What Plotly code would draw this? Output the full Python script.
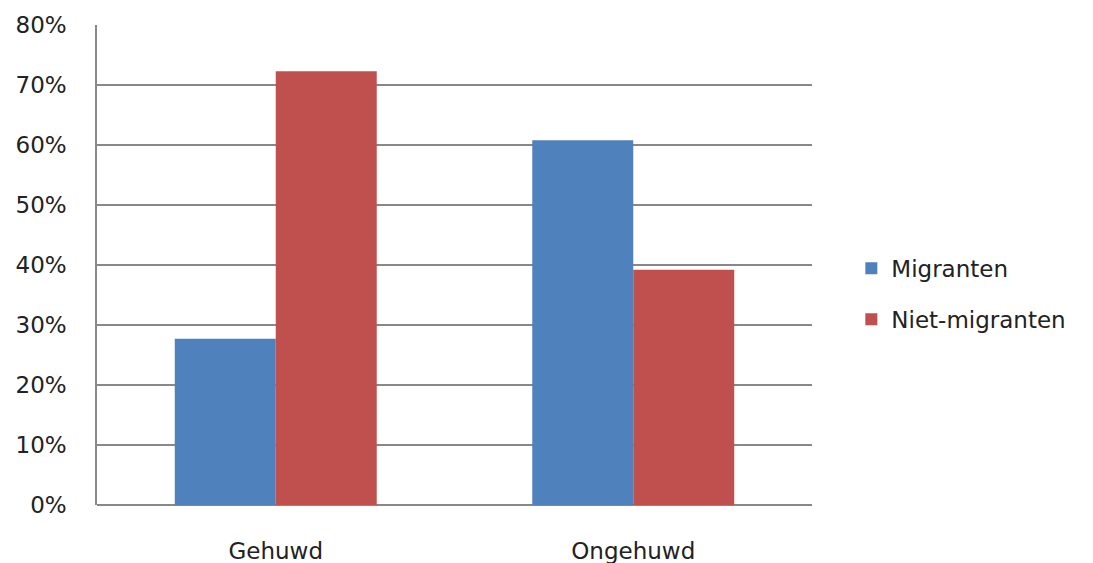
import plotly.graph_objects as go

categories = ["Gehuwd", "Ongehuwd"]
migranten = [27.7, 60.8]
niet_migranten = [72.3, 39.2]
y_ticks = [0, 10, 20, 30, 40, 50, 60, 70, 80]
y_tick_labels = [f"{v}%" for v in y_ticks]

FONT = "DejaVu Sans"
SIZE = 23
fig = go.Figure()
fig.add_trace(go.Bar(name="Migranten", x=categories, y=migranten,
                     marker=dict(color="#4F81BD", line=dict(width=0)),
                     legendgroup="a"))
fig.add_trace(go.Bar(name="Niet-migranten", x=categories, y=niet_migranten,
                     marker=dict(color="#C0504D", line=dict(width=0)),
                     legendgroup="b"))

fig.update_layout(
    width=1093, height=563,
    margin=dict(l=97, r=281, t=25, b=58, autoexpand=False),
    paper_bgcolor="white", plot_bgcolor="white",
    barmode="group", bargap=0.435, bargroupgap=0,
    font=dict(family=FONT, size=SIZE, color="#222222"),
    legend=dict(x=1.055, y=0.44, xanchor="left", yanchor="middle",
                font=dict(size=SIZE), tracegroupgap=18, traceorder="grouped"),
    showlegend=True,
)
fig.update_xaxes(showline=False, ticks="", ticklabelstandoff=30,
                 automargin=False, tickfont=dict(size=SIZE))
fig.update_yaxes(range=[0, 80], tickvals=y_ticks, ticktext=y_tick_labels,
                 showgrid=True, gridcolor="#888888", gridwidth=1.5,
                 showline=True, linecolor="#888888", linewidth=1.5,
                 zeroline=True, zerolinecolor="#888888", zerolinewidth=1.5,
                 automargin=False,
                 ticks="", ticklabelstandoff=24, tickfont=dict(size=SIZE))

fig.write_html("out.html")
